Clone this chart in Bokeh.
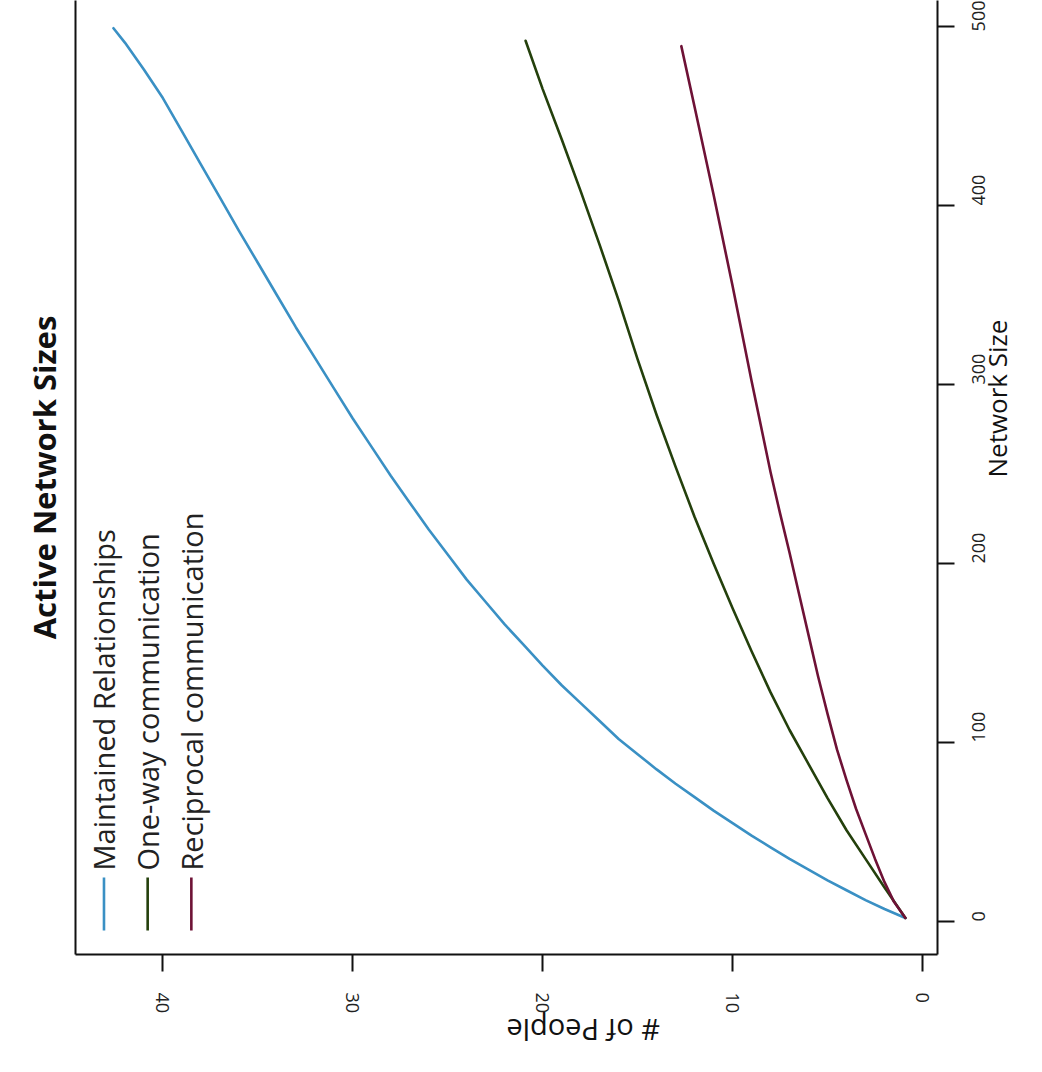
import math
from bokeh.plotting import figure
from bokeh.models import Range1d, FixedTicker, Title, LinearAxis
from bokeh.core.properties import value
from bokeh.embed import file_html
from bokeh.resources import INLINE

# ---- data (x = # of People, y = Network Size) ----
maint_people = [0.9, 2, 3, 4, 5, 6, 7, 8, 9, 10, 11, 12, 13, 14, 15, 16, 17, 18, 19, 20, 21,
                22, 23, 24, 25, 26, 27, 28, 29, 30, 31, 32, 33, 34, 35, 36, 37, 38, 39, 40,
                41, 42, 42.6]
maint_size = [2, 7, 12, 17.5, 23, 29, 35, 41.5, 48, 55, 62, 69.5, 77, 85, 93.5, 102, 112, 122,
              132, 143, 154.5, 166, 178.5, 191, 205, 219, 234, 249, 265, 281, 298, 315, 332,
              350, 368, 386, 404.5, 423, 441.5, 460, 476, 491, 499]

oneway_people = [0.9, 2, 3, 4, 5, 6, 7, 8, 9, 10, 11, 12, 13, 14, 15, 16, 17, 18, 19, 20, 20.9]
oneway_size = [2, 19, 35, 51, 69, 88, 107, 128, 151, 175, 200, 226, 254, 283, 314, 347, 378,
               408, 437, 465, 492]

recip_people = [0.9, 1.5, 2, 2.5, 3, 3.5, 4, 4.5, 5, 5.5, 6, 6.5, 7, 7.5, 8, 9, 10, 11, 12, 12.7]
recip_size = [2, 11, 22, 35, 49, 63, 79, 96, 116, 137, 160, 183, 206, 228, 251, 302, 355, 406,
              455, 489]

series_names = ["Maintained Relationships", "One-way communication", "Reciprocal communication"]
series_colors = ["#3a90c4", "#24400c", "#6e1236"]

people_ticks = [0, 10, 20, 30, 40]
size_ticks = [0, 100, 200, 300, 400, 500]

FONT = "Open Sans"

p = figure(width=1042, height=1072, output_backend="svg", toolbar_location=None,
           x_range=Range1d(44.6, -0.79), y_range=Range1d(-18.4, 514.5),
           x_axis_location="below", y_axis_location="right",
           min_border_left=75, min_border_right=105, min_border_top=0, min_border_bottom=117,
           title=None)

p.background_fill_color = "white"
p.border_fill_color = "white"
p.outline_line_color = None
p.grid.visible = False

xa = p.xaxis[0]
ya = p.yaxis[0]

# plain left edge of the box (no ticks, no labels)
left_edge = LinearAxis(ticker=FixedTicker(ticks=[]), axis_line_color="#111111",
                       axis_line_width=2, major_tick_out=0, major_tick_in=0,
                       minor_tick_out=0, minor_tick_in=0, major_label_standoff=0,
                       major_label_text_font_size="0px")
p.add_layout(left_edge, "left")

# title on the left
t = Title(text="Active Network Sizes", text_font=FONT, text_font_size="31px",
          text_font_style="bold", align="center", text_color="#111111", standoff=22)
p.add_layout(t, "left")

# axes
for ax in (xa, ya):
    ax.axis_line_color = "#111111"
    ax.axis_line_width = 2
    ax.major_tick_out = 17
    ax.major_tick_in = 0
    ax.minor_tick_out = 0
    ax.minor_tick_in = 0
    ax.major_tick_line_color = "#111111"
    ax.major_tick_line_width = 2
    ax.major_label_text_font = FONT
    ax.major_label_text_font_size = "18px"
    ax.major_label_text_color = "#222222"
    ax.axis_label_text_font = FONT
    ax.axis_label_text_font_style = "normal"
    ax.axis_label_text_color = "#111111"

xa.ticker = FixedTicker(ticks=people_ticks)
xa.major_label_orientation = "vertical"
xa.major_label_standoff = 21
xa.axis_label = "# of People"
xa.axis_label_orientation = math.pi
xa.axis_label_text_font_size = "29px"
xa.axis_label_standoff = 14

ya.ticker = FixedTicker(ticks=size_ticks)
ya.major_label_orientation = math.pi / 2
ya.major_label_standoff = 24
ya.axis_label = "Network Size"
ya.axis_label_orientation = math.pi / 2
ya.axis_label_text_font_size = "26px"
ya.axis_label_standoff = 2

# lines
for xs, ys, c in [(maint_people, maint_size, series_colors[0]),
                  (oneway_people, oneway_size, series_colors[1]),
                  (recip_people, recip_size, series_colors[2])]:
    p.line(xs, ys, line_color=c, line_width=2.6, line_join="round", line_cap="round")

# legend (drawn by hand so that it is rotated like the rest)
leg_x = [43.1, 40.8, 38.5]
p.segment(x0=leg_x, y0=[-5.0] * 3, x1=leg_x, y1=[24.6] * 3,
          line_color=series_colors, line_width=2.6)
p.text(x=leg_x, y=[28.5] * 3, text=series_names, angle=math.pi / 2,
       text_align="left", text_baseline="middle",
       text_font=value(FONT), text_font_size="29px", text_color="#222222")

open("out.html", "w").write(file_html(p, INLINE))
